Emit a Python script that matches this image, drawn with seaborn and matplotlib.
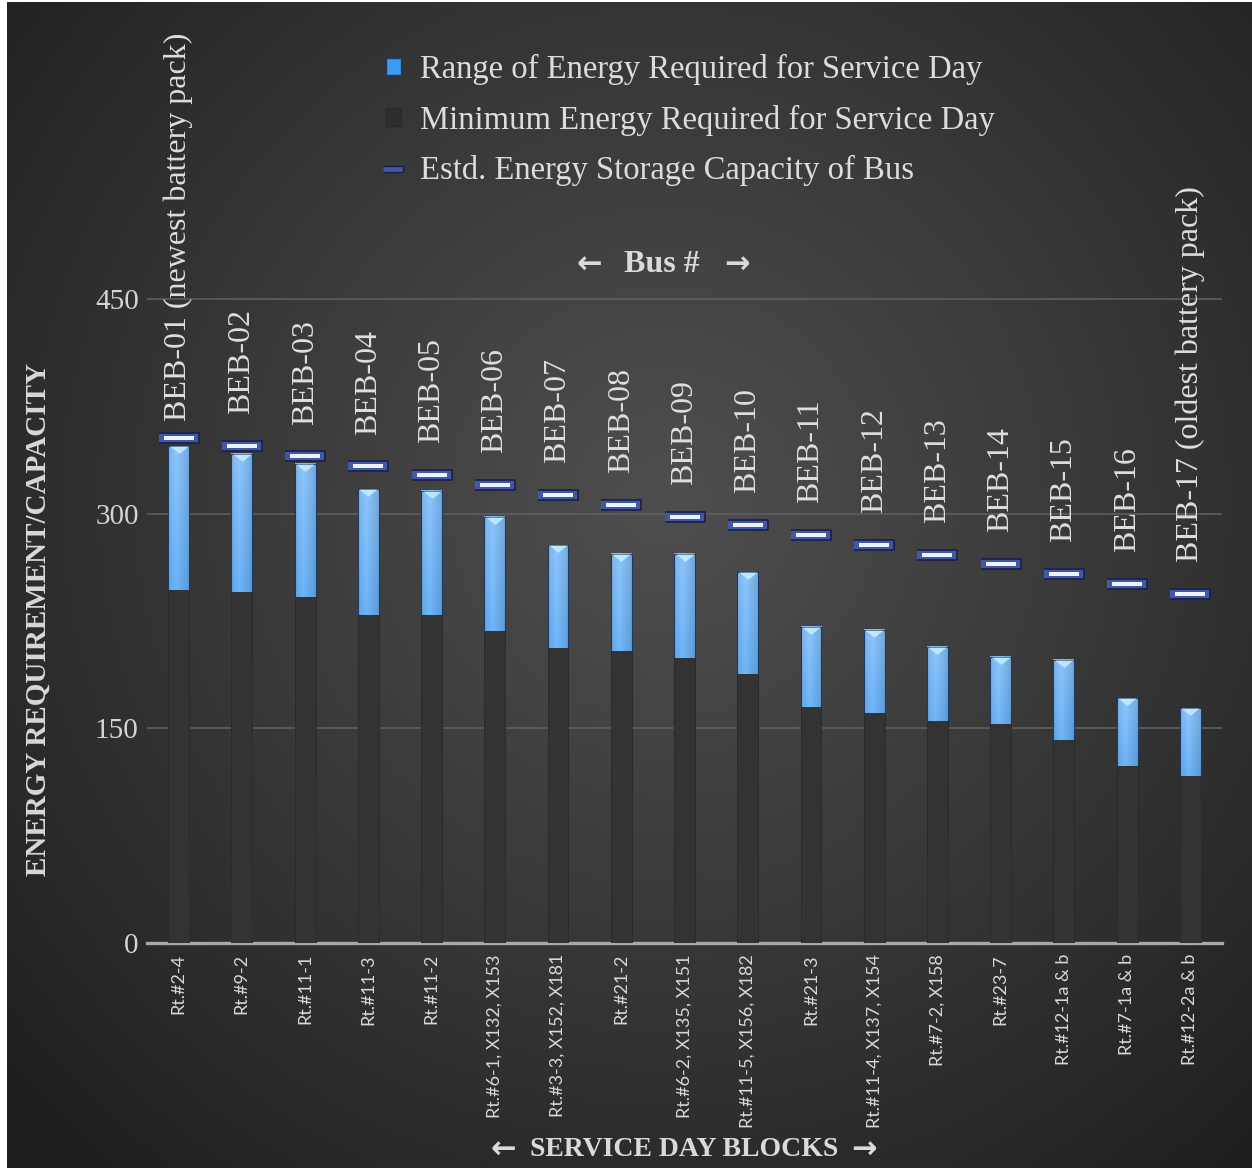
import numpy as np
import pandas as pd
import seaborn as sns
import matplotlib.pyplot as plt
from matplotlib.patches import Patch
from matplotlib.lines import Line2D
from matplotlib.colors import to_rgb

buses = ["BEB-01 (newest battery pack)", "BEB-02", "BEB-03", "BEB-04", "BEB-05", "BEB-06",
         "BEB-07", "BEB-08", "BEB-09", "BEB-10", "BEB-11", "BEB-12", "BEB-13", "BEB-14",
         "BEB-15", "BEB-16", "BEB-17 (oldest battery pack)"]
blocks = ["Rt.#2-4", "Rt.#9-2", "Rt.#11-1", "Rt.#11-3", "Rt.#11-2", "Rt.#6-1, X132, X153",
          "Rt.#3-3, X152, X181", "Rt.#21-2", "Rt.#6-2, X135, X151", "Rt.#11-5, X156, X182",
          "Rt.#21-3", "Rt.#11-4, X137, X154", "Rt.#7-2, X158", "Rt.#23-7", "Rt.#12-1a & b",
          "Rt.#7-1a & b", "Rt.#12-2a & b"]
min_energy = [247, 245, 242, 229, 229, 218, 206, 204, 199, 188, 165, 161, 155, 153, 142, 124, 117]
max_energy = [347, 342, 335, 317, 316, 298, 278, 272, 272, 259, 221, 219, 207, 200, 198, 171, 164]
capacity = [353, 347, 340, 333, 327, 320, 313, 306, 298, 292, 285, 278, 271, 265, 258, 251, 244]

df = pd.DataFrame({"block": blocks, "min": min_energy, "max": max_energy, "cap": capacity})

SERIF = ["Liberation Serif", "DejaVu Serif"]
ARROW = ["DejaVu Sans"]
W, H = 1252, 1168
fig = plt.figure(figsize=(W / 100, H / 100), dpi=100, facecolor="white")

# radial background
bg = fig.add_axes([7 / W, 0, 1 - 7 / W, 1 - 2 / H], zorder=-5)
yy, xx = np.mgrid[0:H, 0:W]
r = np.clip(np.hypot(xx - 660, yy - 500) / 880, 0, 1) ** 1.1
c0, c1 = np.array(to_rgb("#4e4e4e")), np.array(to_rgb("#1f1f1f"))
img = c0[None, None, :] * (1 - r[..., None]) + c1[None, None, :] * r[..., None]
bg.imshow(img, aspect="auto", extent=[0, 1, 0, 1])
bg.axis("off")

ax = fig.add_axes([147 / W, 225 / H, 1075 / W, 923 / H])
ax.set_facecolor("none")

# full bars (range part shows above the minimum)
sns.barplot(data=df, x="block", y="max", width=0.33, color="#3d9cf0",
            edgecolor="#1d3a66", linewidth=0.8, ax=ax, zorder=3)
rng_patches = list(ax.patches)

# blue gradient inside the range bars
gy = np.linspace(0, 1, 64)[:, None]
gx = np.linspace(0, 1, 16)[None, :]
top, bot = np.array(to_rgb("#8cc6ff")), np.array(to_rgb("#1688ee"))
grad = top[None, None, :] * (1 - gy[..., None]) + bot[None, None, :] * gy[..., None]
shade = 1 - 0.12 * np.abs(gx - 0.4) * 2
grad = np.clip(grad * shade[..., None], 0, 1)
for p in rng_patches:
    x0, y0, w, h = p.get_x(), p.get_y(), p.get_width(), p.get_height()
    ax.imshow(grad, extent=[x0, x0 + w, y0, y0 + h], aspect="auto", zorder=2.9,
              interpolation="bilinear")
    p.set_facecolor("none")

sns.barplot(data=df, x="block", y="min", width=0.33, color="#333333",
            edgecolor="#2a2a2a", linewidth=0.6, ax=ax, zorder=3.5)

pos = np.arange(len(blocks))
# light bevel triangle at the top of each range bar
bevel = [(-2.5, 0), (2.5, 0), (0, -2)]
sns.scatterplot(x=pos, y=max_energy, marker=bevel, s=175, color="#c6f0ff",
                alpha=0.85, linewidth=0, ax=ax, zorder=4)

# capacity markers
outer = [(-2, -0.5), (2, -0.5), (2, 0.5), (-2, 0.5)]
inner = [(-5, -0.5), (5, -0.5), (5, 0.5), (-5, 0.5)]
sns.scatterplot(x=pos, y=capacity, marker=outer, s=830, color="#4258a6",
                edgecolor="#18204a", linewidth=1.2, ax=ax, zorder=5)
sns.scatterplot(x=pos, y=capacity, marker=inner, s=470, color="#eef4ff",
                linewidth=0, ax=ax, zorder=6)

for i, lab in enumerate(buses):
    off = 12 if i == 0 else 23
    ax.annotate(lab, xy=(i, capacity[i]), xytext=(0, off), textcoords="offset points",
                rotation=90, ha="center", va="bottom", fontsize=23, color="#dedede",
                family=SERIF, zorder=7, annotation_clip=False)

ax.set_xlim(-0.5, len(blocks) - 0.5)
ax.set_ylim(0, 645)
ax.set_yticks([0, 150, 300, 450])
ax.grid(axis="y", color="#5e5e5e", linewidth=1.2, zorder=0)
ax.set_axisbelow(True)
for s in ["top", "right", "left"]:
    ax.spines[s].set_visible(False)
ax.spines["bottom"].set_color("#a8a8a8")
ax.spines["bottom"].set_linewidth(2.4)
ax.spines["bottom"].set_zorder(2)
ax.tick_params(axis="both", length=0)
ax.tick_params(axis="y", pad=6, labelsize=21, labelcolor="#d4d4d4")
ax.tick_params(axis="x", pad=8, labelsize=13, labelcolor="#d8d8d8")
for t in ax.get_yticklabels():
    t.set_family(SERIF)
ax.set_xticks(pos)
ax.set_xticklabels(blocks, rotation=90, family=["Lato", "DejaVu Sans"], va="top")
ax.set_xlabel("")
ax.set_ylabel("")

fig.text(38 / W, 1 - 620 / H, "ENERGY REQUIREMENT/CAPACITY", rotation=90, ha="center",
         va="center", fontsize=21, fontweight="bold", color="#d8d8d8", family=SERIF)

# axis captions with bold arrows on both sides
for txt, xc, yc, xl, xr, fs in [("SERVICE DAY BLOCKS", 684, 1150, 503, 864, 20),
                                 ("Bus #", 662, 265, 589, 737, 23)]:
    fig.text(xc / W, 1 - yc / H, txt, ha="center", va="center", fontsize=fs,
             fontweight="bold", color="#dadada", family=SERIF)
    fig.text(xl / W, 1 - yc / H, "←", ha="center", va="center", fontsize=22,
             fontweight="bold", color="#dadada", family=ARROW)
    fig.text(xr / W, 1 - yc / H, "→", ha="center", va="center", fontsize=22,
             fontweight="bold", color="#dadada", family=ARROW)

handles = [Patch(facecolor="#3d9cf0", edgecolor="#1d3a66"),
           Patch(facecolor="#2e2e2e", edgecolor="#2a2a2a"),
           Line2D([], [], marker=outer, markersize=15, color="#4258a6",
                  markeredgecolor="#18204a", linestyle="none")]
labels = ["Range of Energy Required for Service Day",
          "Minimum Energy Required for Service Day",
          "Estd. Energy Storage Capacity of Bus"]
fig.legend(handles, labels, loc="upper left", bbox_to_anchor=(386 / W, 1 - 54 / H),
           frameon=False, labelcolor="#dcdcdc", handlelength=0.45, handleheight=0.45,
           handletextpad=0.6, labelspacing=0.6, borderpad=0, borderaxespad=0,
           prop={"family": SERIF, "size": 23.5})

fig.savefig("out.png", dpi=100, facecolor=fig.get_facecolor())
